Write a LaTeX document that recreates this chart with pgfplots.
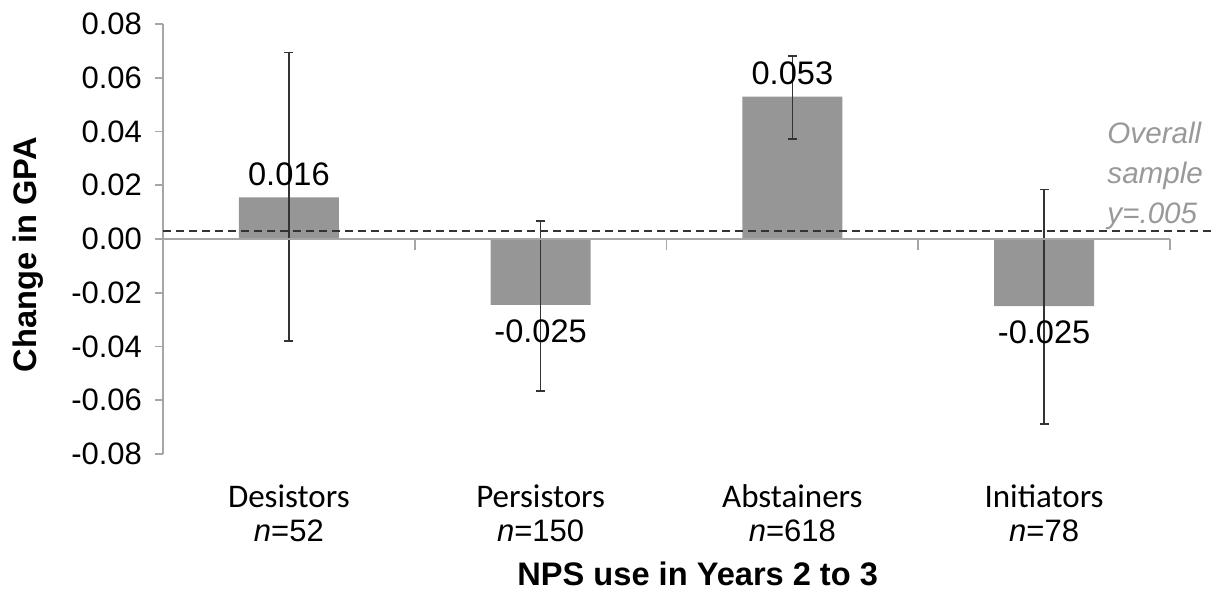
\documentclass[border=0pt]{standalone}
\usepackage{pgfplots}
\pgfplotsset{compat=1.18}
\usepackage{pgfplotstable}
\usepackage{fontspec}
\setmainfont{Liberation Sans}
\newfontfamily\catfont{Carlito}
\definecolor{bargray}{HTML}{969696}
\definecolor{axgray}{HTML}{A6A6A6}
\definecolor{notegray}{HTML}{999999}
\definecolor{errgray}{HTML}{333333}

\pgfplotstableread{
x y ep em lab
0 0.0155 0.0539 0.0535 0.016
2 0.053 0.0152 0.0158 0.053
}\posdata
\pgfplotstableread{
x y ep em lab
1 -0.0245 0.0312 0.0320 -0.025
3 -0.025 0.0434 0.0439 -0.025
}\negdata

\begin{document}
\begin{tikzpicture}
\path[use as bounding box] (0,0) rectangle (608pt,296.5pt);
\begin{axis}[
  at={(81.5pt,69.5pt)}, anchor=south west,
  scale only axis, width=503.5pt, height=215pt,
  xmin=-0.5, xmax=3.5, ymin=-0.08, ymax=0.08,
  scaled y ticks=false,
  axis lines*=left,
  x axis line style={draw=none},
  y axis line style={draw=axgray, line width=0.8pt},
  xtick={0,1,2,3},
  xticklabels={
    {{\catfont\fontsize{16.5}{17}\selectfont Desistors}\\\textit{n}=52},
    {{\catfont\fontsize{16.5}{17}\selectfont Persistors}\\\textit{n}=150},
    {{\catfont\fontsize{16.5}{17}\selectfont Abstainers}\\\textit{n}=618},
    {{\catfont\fontsize{16.5}{17}\selectfont Initiators}\\\textit{n}=78}},
  x tick style={draw=none},
  xticklabel style={align=center, font=\fontsize{15.5}{17}\selectfont, anchor=north, inner sep=0pt, yshift=-11.3pt},
  ytick={-0.08,-0.06,-0.04,-0.02,0,0.02,0.04,0.06,0.08},
  yticklabels={-0.08,-0.06,-0.04,-0.02,0.00,0.02,0.04,0.06,0.08},
  y tick style={draw=axgray, line width=0.8pt},
  yticklabel style={font=\fontsize{15.5}{18}\selectfont, xshift=-3pt},
  tick align=outside, major tick length=4pt,
  ylabel={Change in GPA},
  ylabel style={font=\bfseries\fontsize{16.3}{18}\selectfont, at={(axis description cs:-0.134,0.463)}, anchor=center},
  xlabel={NPS use in Years 2 to 3},
  xlabel style={font=\bfseries\fontsize{16.3}{18}\selectfont, at={(axis description cs:0.531,-0.3047)}, anchor=base},
  clip=false,
]
\addplot[ybar, bar width=50pt, bar shift=0pt, fill=bargray, draw=none,
  point meta=explicit symbolic, nodes near coords,
  nodes near coords style={font=\fontsize{16.3}{18}\selectfont, text=black, anchor=south, yshift=2.3pt},
  error bars/.cd, y dir=both, y explicit,
  error bar style={line width=0.85pt, color=errgray},
  error mark options={rotate=90, mark size=2.2pt, line width=0.85pt, color=errgray}]
  table[x=x, y=y, y error plus=ep, y error minus=em, meta=lab] {\posdata};
\addplot[ybar, bar width=50pt, bar shift=0pt, fill=bargray, draw=none,
  point meta=explicit symbolic, nodes near coords,
  nodes near coords style={font=\fontsize{16.3}{18}\selectfont, text=black, anchor=north, yshift=-3.7pt},
  error bars/.cd, y dir=both, y explicit,
  error bar style={line width=0.85pt, color=errgray},
  error mark options={rotate=90, mark size=2.2pt, line width=0.85pt, color=errgray}]
  table[x=x, y=y, y error plus=ep, y error minus=em, meta=lab] {\negdata};
\addplot[axgray, line width=0.8pt, no marks] coordinates {(-0.5,0) (3.5,0)};
\addplot[ycomb, axgray, line width=0.8pt, no marks] coordinates {(0.5,-0.004) (1.5,-0.004) (2.5,-0.004) (3.5,-0.004)};
\addplot[errgray, line width=0.7pt, dash pattern=on 4pt off 2.5pt, no marks] coordinates {(-0.5,0.003) (3.7,0.003)};
\node[anchor=base west, text=notegray, font=\itshape\fontsize{14.8}{17}\selectfont, inner sep=0pt] at (axis cs:3.25,0.0357) {Overall};
\node[anchor=base west, text=notegray, font=\itshape\fontsize{14.8}{17}\selectfont, inner sep=0pt] at (axis cs:3.25,0.0208) {sample};
\node[anchor=base west, text=notegray, font=\itshape\fontsize{14.8}{17}\selectfont, inner sep=0pt] at (axis cs:3.25,0.0059) {y=.005};
\end{axis}
\end{tikzpicture}
\end{document}
